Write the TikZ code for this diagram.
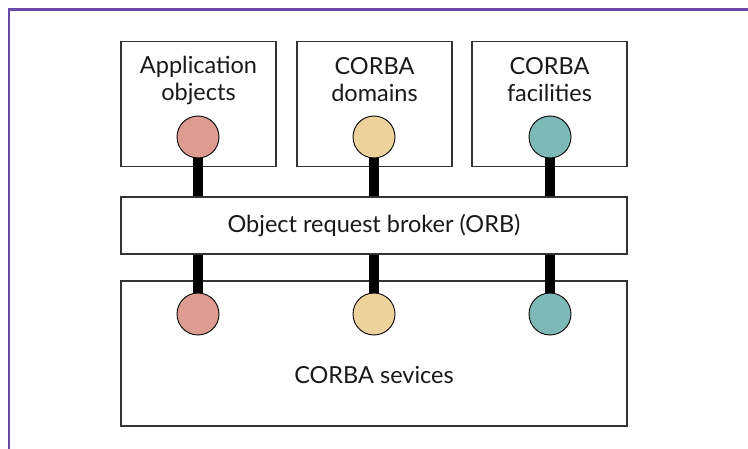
\documentclass[tikz,border=0pt]{standalone}
\usepackage{fontspec}
\setmainfont{Lato}
\begin{document}
\begin{tikzpicture}[x=1pt,y=-1pt,
  box/.style={draw=black!80,line width=1.3pt,fill=white},
  lbl/.style={font=\fontsize{23.5}{27}\selectfont,align=center,text=black!90},
  port/.style={circle,draw=black,line width=0.9pt,minimum size=42pt,inner sep=0pt},
  stem/.style={line width=10pt,black}]
\useasboundingbox (0,0) rectangle (748,449);
\fill[white] (0,0) rectangle (748,449);
% frame
\draw[line width=2.6pt,draw={rgb,255:red,102;green,72;blue,168}] (8.8,449) -- (8.8,9.6) -- (748,9.6);
\colorlet{pinkport}{rgb,255:red,221;green,156;blue,143}
\colorlet{tanport}{rgb,255:red,237;green,211;blue,155}
\colorlet{tealport}{rgb,255:red,125;green,185;blue,182}
% upper boxes
\draw[box] (121,41.5) rectangle (276,166.5);
\draw[box] (297,41.5) rectangle (452,166.5);
\draw[box] (472,41.5) rectangle (627,166.5);
\node[lbl] (t1) at (198.5,80) {Application\\objects};
\node[lbl] (t2) at (374.5,80) {CORBA\\domains};
\node[lbl] (t3) at (549.5,80) {CORBA\\facilities};
% broker bar and services
\node[box,minimum width=506pt,minimum height=57pt,inner sep=0pt,lbl] (orb) at (374,225.5) {Object request broker (ORB)};
\draw[box] (121,281) rectangle (627,426);
\node[lbl] (svc) at (374,375) {CORBA sevices};
% ports
\coordinate (s1) at (198,137);
\coordinate (s2) at (374,137);
\coordinate (s3) at (550,137);
\coordinate (d1) at (198,314);
\coordinate (d2) at (374,314);
\coordinate (d3) at (550,314);
\foreach \i in {1,2,3}{
  \draw[stem] (s\i) -- (s\i |- orb.north);
  \draw[stem] (orb.south -| d\i) -- (d\i);
}
\node[port,fill=pinkport] (u1) at (s1) {};
\node[port,fill=tanport] (u2) at (s2) {};
\node[port,fill=tealport] (u3) at (s3) {};
\node[port,fill=pinkport] (l1) at (d1) {};
\node[port,fill=tanport] (l2) at (d2) {};
\node[port,fill=tealport] (l3) at (d3) {};
\end{tikzpicture}
\end{document}
